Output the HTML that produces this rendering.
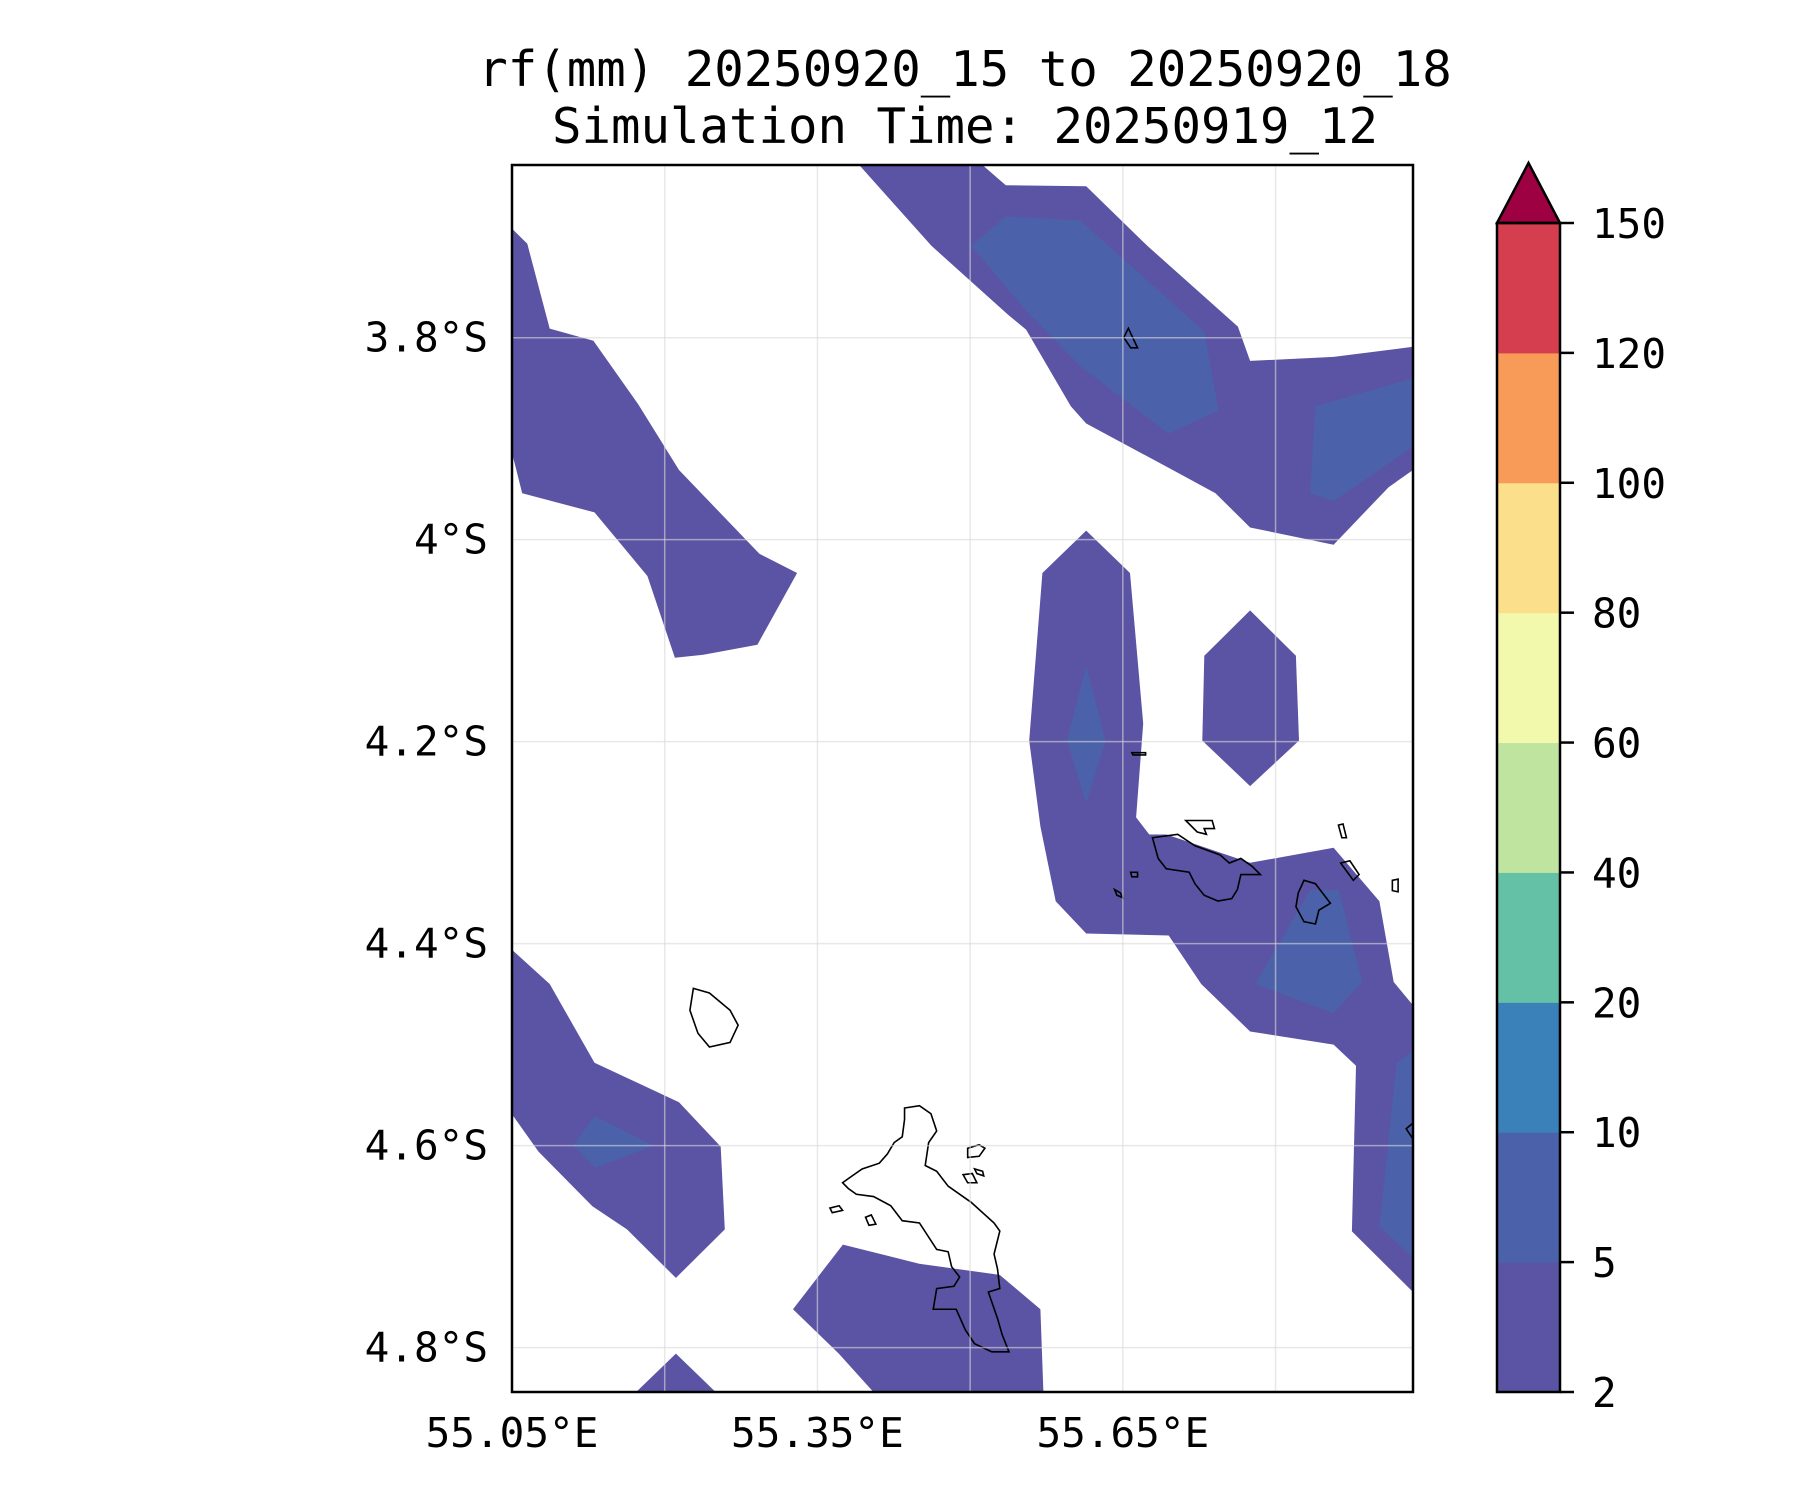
<!DOCTYPE html>
<html><head><meta charset="utf-8"><style>
html,body{margin:0;padding:0;background:#fff}
svg{display:block}
text{font-family:"DejaVu Sans Mono","Liberation Mono",monospace;fill:#000}
</style></head><body>
<svg id="chart" width="1800" height="1500" viewBox="0 0 1800 1500" xmlns="http://www.w3.org/2000/svg">
<text x="965" y="86" font-size="49" text-anchor="middle">rf(mm) 20250920_15 to 20250920_18</text>
<text x="965" y="143" font-size="49" text-anchor="middle">Simulation Time: 20250919_12</text>
<clipPath id="clip"><rect x="512" y="165" width="901" height="1227"/></clipPath>
<g id="fills" clip-path="url(#clip)"></g>
<g id="coast" clip-path="url(#clip)" fill="none" stroke="#000" transform="translate(512,165) scale(1.1478,1.15) translate(-445,-145)">
<path vector-effect="non-scaling-stroke" stroke-width="1.6" d="M787,965 L800,963 810,970 815,985 808,995 805,1015 815,1020 825,1033 845,1047 865,1065 870,1072 865,1092 868,1105 870,1122 860,1125 868,1148 872,1162 878,1177 863,1177 848,1170 840,1158 832,1140 820,1140 812,1140 815,1122 830,1120 835,1112 828,1103 825,1090 815,1088 800,1065 785,1063 775,1050 760,1042 745,1040 738,1035 733,1030 740,1025 750,1018 765,1013 772,1005 778,995 785,990 787,975Z"/>
<path vector-effect="non-scaling-stroke" stroke-width="1.6" d="M1003,730 L1025,727 1040,737 1062,745 1070,752 1080,748 1090,755 1097,762 1080,762 1077,775 1072,783 1060,785 1048,780 1040,770 1035,760 1015,757 1008,748Z"/>
<path vector-effect="non-scaling-stroke" stroke-width="1.6" d="M603,861 L617,865 635,880 642,893 635,908 617,912 607,900 600,880Z"/>
<path vector-effect="non-scaling-stroke" stroke-width="1.6" d="M1135,767 L1145,770 1158,787 1148,793 1145,805 1135,803 1128,790 1130,778Z"/>
<path vector-effect="non-scaling-stroke" stroke-width="1.6" d="M1032,715 L1055,715 1057,722 1048,722 1050,727 1042,725Z"/>
<path vector-effect="non-scaling-stroke" stroke-width="1.6" d="M982,287 L990,304 984,304 978,295Z"/>
<path vector-effect="non-scaling-stroke" stroke-width="1.6" d="M1167,752 L1175,750 1183,762 1178,767Z M1165,719 L1169,718 1172,730 1168,730Z M1212,767 L1217,766 1217,777 1212,776Z M985,656 L997,656 997,658 986,658Z M984,760 L990,760 990,764 985,764Z M970,775 L975,778 977,782 972,780Z M1224,983 L1230,978 1230,992Z"/>
<path vector-effect="non-scaling-stroke" stroke-width="1.6" d="M842,1000 L852,997 857,1000 852,1007 842,1008Z M838,1023 L846,1022 850,1030 842,1030Z M848,1018 L855,1020 856,1024 850,1022Z M722,1052 L730,1050 733,1054 724,1056Z M753,1060 L758,1058 762,1066 756,1067Z"/>
</g>
<g id="grid"></g>
<rect x="512" y="165" width="901" height="1227" fill="none" stroke="#000" stroke-width="2.5"/>
<g id="axes"></g>
<g id="cbar"></g>
</svg>
<script>
const xTicks = [55.05, 55.35, 55.65];
const xGrid = [55.05, 55.2, 55.35, 55.5, 55.65, 55.8];
const yTicks = [3.8, 4.0, 4.2, 4.4, 4.6, 4.8];
const yTickLabels = ["3.8°S", "4°S", "4.2°S", "4.4°S", "4.6°S", "4.8°S"];
const levels = [2, 5, 10, 20, 40, 60, 80, 100, 120, 150];
const levelColors = ["#5b53a4", "#4b62ab", "#3a80b9", "#65c1a5", "#bee4a0", "#f2f9ad", "#fcdf8b", "#f89a58", "#d53e4f"];
const extendColor = "#9e0142";
// contour polygons: [level index, lon array, lat array(°S)]
const band1Lon = [55.050,55.065,55.087,55.130,55.174,55.214,55.293,55.330,55.291,55.238,55.210,55.183,55.131,55.060,55.050];
const band1Lat = [3.692,3.707,3.791,3.803,3.866,3.931,4.014,4.033,4.104,4.114,4.117,4.036,3.973,3.954,3.914];
const band2Lon = [55.391,55.512,55.535,55.614,55.674,55.763,55.775,55.857,55.935,55.935,55.911,55.857,55.775,55.741,55.699,55.614,55.599,55.555,55.537,55.462];
const band2Lat = [3.629,3.629,3.649,3.650,3.709,3.789,3.823,3.819,3.809,3.931,3.948,4.005,3.988,3.954,3.931,3.885,3.868,3.792,3.777,3.709];
const band2aLon = [55.501,55.535,55.608,55.730,55.744,55.695,55.608,55.554];
const band2aLat = [3.709,3.680,3.684,3.794,3.872,3.895,3.828,3.772];
const band2bLon = [55.839,55.935,55.935,55.857,55.834];
const band2bLat = [3.868,3.840,3.908,3.962,3.954];
const band3Lon = [55.571,55.614,55.657,55.670,55.663,55.676,55.693,55.775,55.857,55.902,55.916,55.935,55.935,55.875,55.879,55.857,55.775,55.727,55.695,55.614,55.584,55.569,55.558];
const band3Lat = [4.033,3.991,4.033,4.182,4.275,4.292,4.292,4.320,4.305,4.358,4.438,4.461,4.745,4.685,4.521,4.500,4.487,4.440,4.392,4.390,4.358,4.284,4.199];
const band3aLon = [55.614,55.633,55.614,55.595];
const band3aLat = [4.125,4.199,4.261,4.199];
const band3bLon = [55.780,55.834,55.862,55.885,55.857];
const band3bLat = [4.440,4.347,4.347,4.438,4.469];
const band3cLon = [55.919,55.935,55.935,55.902];
const band3cLat = [4.518,4.506,4.711,4.680];
const band4Lon = [55.730,55.775,55.820,55.823,55.775,55.728];
const band4Lat = [4.115,4.070,4.115,4.199,4.244,4.199];
const band5Lon = [55.050,55.087,55.131,55.214,55.255,55.259,55.211,55.163,55.129,55.076,55.050];
const band5Lat = [4.406,4.440,4.518,4.557,4.601,4.683,4.731,4.683,4.660,4.606,4.569];
const band5aLon = [55.110,55.131,55.189,55.132];
const band5aLat = [4.600,4.571,4.600,4.622];
const band6Lon = [55.326,55.375,55.450,55.529,55.569,55.572,55.405,55.371];
const band6Lat = [4.762,4.698,4.717,4.728,4.762,4.844,4.844,4.806];
const band7Lon = [55.172,55.211,55.250];
const band7Lat = [4.844,4.806,4.844];
const polys = [
  [0, band1Lon, band1Lat, "contour-2-5-northwest"],
  [0, band2Lon, band2Lat, "contour-2-5-northeast"],
  [1, band2aLon, band2aLat, "contour-5-10-northeast"],
  [1, band2bLon, band2bLat, "contour-5-10-east"],
  [0, band3Lon, band3Lat, "contour-2-5-central"],
  [1, band3aLon, band3aLat, "contour-5-10-central"],
  [1, band3bLon, band3bLat, "contour-5-10-la-digue"],
  [1, band3cLon, band3cLat, "contour-5-10-southeast"],
  [0, band4Lon, band4Lat, "contour-2-5-hexagon"],
  [0, band5Lon, band5Lat, "contour-2-5-southwest"],
  [1, band5aLon, band5aLat, "contour-5-10-southwest"],
  [0, band6Lon, band6Lat, "contour-2-5-south"],
  [0, band7Lon, band7Lat, "contour-2-5-south-edge"]
];
const NS = "http://www.w3.org/2000/svg";
const X0 = 512, X1 = 1413, Y0 = 165, Y1 = 1392;
const LON0 = 55.05, LON1 = 55.935, LAT0 = 3.629, LAT1 = 4.844;
function xs(lon){ return X0 + (lon - LON0) / (LON1 - LON0) * (X1 - X0); }
function ys(lat){ return Y0 + (lat - LAT0) / (LAT1 - LAT0) * (Y1 - Y0); }
const CB0 = 1392, CB1 = 223, CBX = 1497, CBW = 63;
function cy(i){ return CB0 - i * (CB0 - CB1) / (levels.length - 1); }
function mk(tag, attrs, parent){ const e = document.createElementNS(NS, tag); for (const k in attrs) e.setAttribute(k, attrs[k]); parent.appendChild(e); return e; }

const fills = document.getElementById('fills');
polys.forEach(p => {
  const pts = p[1].map((lon, i) => xs(lon).toFixed(1) + ',' + ys(p[2][i]).toFixed(1)).join(' ');
  const el = mk('polygon', {points: pts, fill: levelColors[p[0]]}, fills);
  
  
});
const grid = document.getElementById('grid');
xGrid.forEach(v => {
  const l = mk('line', {x1: xs(v), x2: xs(v), y1: Y0, y2: Y1, stroke: '#d8d8d8', 'stroke-opacity': 0.6, 'stroke-width': 1.5}, grid);
  
  
});
yTicks.forEach(v => {
  const l = mk('line', {x1: X0, x2: X1, y1: ys(v), y2: ys(v), stroke: '#d8d8d8', 'stroke-opacity': 0.6, 'stroke-width': 1.5}, grid);
  
  
});
const axes = document.getElementById('axes');
xTicks.forEach(v => {
  const t = mk('text', {x: xs(v), y: 1447, 'font-size': 41, 'text-anchor': 'middle'}, axes);
  t.textContent = v.toFixed(2) + '°E';
  
  
});
yTicks.forEach((v, i) => {
  const t = mk('text', {x: 488, y: ys(v) + 14, 'font-size': 41, 'text-anchor': 'end'}, axes);
  t.textContent = yTickLabels[i];
  
  
});
const cb = document.getElementById('cbar');
levelColors.forEach((c, i) => {
  const r = mk('rect', {x: CBX, y: cy(i + 1), width: CBW, height: cy(i) - cy(i + 1) + 0.5, fill: c}, cb);
  
  
});
const tri = mk('polygon', {points: `${CBX},${CB1} ${CBX + CBW / 2},163 ${CBX + CBW},${CB1}`, fill: extendColor, stroke: '#000', 'stroke-width': 2.5, 'stroke-linejoin': 'miter'}, cb);


const fr = mk('rect', {x: CBX, y: CB1, width: CBW, height: CB0 - CB1, fill: 'none', stroke: '#000', 'stroke-width': 2.5}, cb);


levels.forEach((v, i) => {
  const tk = mk('line', {x1: CBX + CBW, x2: CBX + CBW + 14, y1: cy(i), y2: cy(i), stroke: '#000', 'stroke-width': 2.5}, cb);
  
  
  const t = mk('text', {x: 1592, y: cy(i) + 15, 'font-size': 41}, cb);
  t.textContent = String(v);
  
  
});
</script>
</body></html>
